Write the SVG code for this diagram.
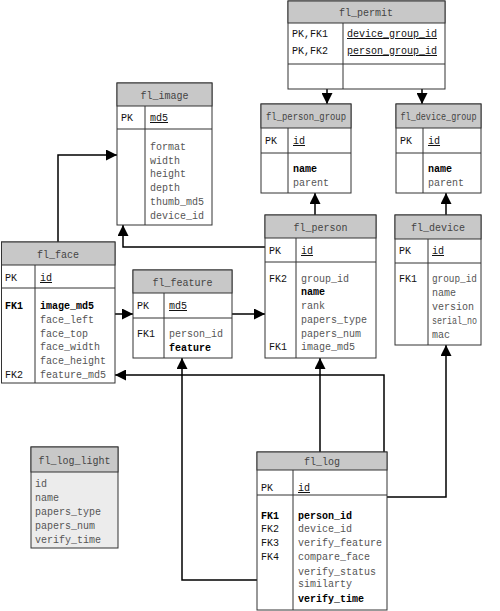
<svg xmlns="http://www.w3.org/2000/svg" width="500" height="611" viewBox="0 0 500 611">
<defs>
<marker id="ah" viewBox="0 0 10 10" refX="10" refY="5" markerWidth="11" markerHeight="11" markerUnits="userSpaceOnUse" orient="auto">
<path d="M0,0 L10,5 L0,10 z" fill="#000"/>
</marker>
<style>
.box{fill:#fff;stroke:#333;stroke-width:1}
.hd{fill:#c8c8c8;stroke:#333;stroke-width:1}
.lt{fill:#ececec;stroke:#333;stroke-width:1}
.ln{stroke:#333;stroke-width:1;fill:none}
text{font-family:"Liberation Mono","DejaVu Sans Mono",monospace;font-size:10px;fill:#555}
.t{text-anchor:middle;fill:#444}
.k{fill:#111}
.u{fill:#111;text-decoration:underline}
.b{fill:#000;font-weight:bold}
.c{stroke:#000;stroke-width:1.5;fill:none;marker-end:url(#ah)}
</style>
</defs>
<rect width="500" height="611" fill="#fff"/>

<g id="connectors">
<path class="c" d="M327,89 V104"/>
<path class="c" d="M422,89 V104"/>
<path class="c" d="M315,215 V193"/>
<path class="c" d="M446,215 V193"/>
<path class="c" d="M58,242 V155 H117"/>
<path class="c" d="M265,247 H123 V225"/>
<path class="c" d="M115,314 H133"/>
<path class="c" d="M232,314 H265"/>
<path class="c" d="M384,452 V375 H115"/>
<path class="c" d="M320,452 V358"/>
<path class="c" d="M257,580 H182 V358"/>
<path class="c" d="M387,497 H446 V345"/>
</g>

<g id="fl_permit">
<rect class="box" x="288" y="1" width="157" height="88"/>
<rect class="hd" x="288" y="1" width="157" height="22"/>
<line class="ln" x1="343" y1="23" x2="343" y2="89"/>
<line class="ln" x1="288" y1="64" x2="445" y2="64"/>
<text class="t" x="366" y="16">fl_permit</text>
<text class="k" x="292" y="37">PK,FK1</text>
<text class="k" x="292" y="54">PK,FK2</text>
<text class="u" x="347" y="37">device_group_id</text>
<text class="u" x="347" y="54">person_group_id</text>
</g>

<g id="fl_image">
<rect class="box" x="117" y="83" width="95" height="142"/>
<rect class="hd" x="117" y="83" width="95" height="23"/>
<line class="ln" x1="117" y1="129" x2="212" y2="129"/>
<line class="ln" x1="145" y1="106" x2="145" y2="225"/>
<text class="t" x="164.5" y="98.5">fl_image</text>
<text class="k" x="121" y="121">PK</text>
<text class="u" x="150" y="121">md5</text>
<text x="150" y="150">format</text>
<text x="150" y="163.7">width</text>
<text x="150" y="177.4">height</text>
<text x="150" y="191">depth</text>
<text x="150" y="204.8">thumb_md5</text>
<text x="150" y="218.5">device_id</text>
</g>

<g id="fl_person_group">
<rect class="box" x="261" y="104" width="90" height="89"/>
<rect class="hd" x="261" y="104" width="90" height="24"/>
<line class="ln" x1="261" y1="153" x2="351" y2="153"/>
<line class="ln" x1="288" y1="128" x2="288" y2="193"/>
<text class="t" x="306" y="120" textLength="80" lengthAdjust="spacingAndGlyphs">fl_person_group</text>
<text class="k" x="265" y="144">PK</text>
<text class="u" x="293" y="144">id</text>
<text class="b" x="293" y="172">name</text>
<text x="293" y="186">parent</text>
</g>

<g id="fl_device_group">
<rect class="box" x="396" y="104" width="85" height="89"/>
<rect class="hd" x="396" y="104" width="85" height="24"/>
<line class="ln" x1="396" y1="153" x2="481" y2="153"/>
<line class="ln" x1="423" y1="128" x2="423" y2="193"/>
<text class="t" x="438.5" y="120" textLength="76" lengthAdjust="spacingAndGlyphs">fl_device_group</text>
<text class="k" x="400" y="144">PK</text>
<text class="u" x="428" y="144">id</text>
<text class="b" x="428" y="172">name</text>
<text x="428" y="186">parent</text>
</g>

<g id="fl_face">
<rect class="box" x="1.5" y="242" width="113.5" height="141"/>
<rect class="hd" x="1.5" y="242" width="113.5" height="23"/>
<line class="ln" x1="1.5" y1="288" x2="115" y2="288"/>
<line class="ln" x1="35" y1="265" x2="35" y2="383"/>
<text class="t" x="58" y="257.5">fl_face</text>
<text class="k" x="5" y="281">PK</text>
<text class="u" x="40" y="281">id</text>
<text class="b" x="5" y="309">FK1</text>
<text class="b" x="40" y="309">image_md5</text>
<text x="40" y="323">face_left</text>
<text x="40" y="337">face_top</text>
<text x="40" y="350">face_width</text>
<text x="40" y="364">face_height</text>
<text class="k" x="5" y="378">FK2</text>
<text x="40" y="378">feature_md5</text>
</g>

<g id="fl_feature">
<rect class="box" x="133" y="270" width="99" height="88"/>
<rect class="hd" x="133" y="270" width="99" height="23"/>
<line class="ln" x1="133" y1="318" x2="232" y2="318"/>
<line class="ln" x1="164" y1="293" x2="164" y2="358"/>
<text class="t" x="182.5" y="285.5">fl_feature</text>
<text class="k" x="137" y="309">PK</text>
<text class="u" x="169" y="309">md5</text>
<text class="k" x="137" y="337">FK1</text>
<text x="169" y="337">person_id</text>
<text class="b" x="169" y="351">feature</text>
</g>

<g id="fl_person">
<rect class="box" x="265" y="215" width="111" height="143"/>
<rect class="hd" x="265" y="215" width="111" height="23"/>
<line class="ln" x1="265" y1="262" x2="376" y2="262"/>
<line class="ln" x1="296" y1="238" x2="296" y2="358"/>
<text class="t" x="320.5" y="230.5">fl_person</text>
<text class="k" x="269" y="254">PK</text>
<text class="u" x="301" y="254">id</text>
<text class="k" x="269" y="282">FK2</text>
<text x="301" y="282">group_id</text>
<text class="b" x="301" y="295">name</text>
<text x="301" y="309">rank</text>
<text x="301" y="323">papers_type</text>
<text x="301" y="337">papers_num</text>
<text class="k" x="269" y="350">FK1</text>
<text x="301" y="350">image_md5</text>
</g>

<g id="fl_device">
<rect class="box" x="395" y="215" width="86" height="130"/>
<rect class="hd" x="395" y="215" width="86" height="24"/>
<line class="ln" x1="395" y1="263" x2="481" y2="263"/>
<line class="ln" x1="428" y1="239" x2="428" y2="345"/>
<text class="t" x="438" y="231">fl_device</text>
<text class="k" x="399" y="254">PK</text>
<text class="u" x="432" y="254">id</text>
<text class="k" x="399" y="282">FK1</text>
<text x="432" y="282" textLength="45" lengthAdjust="spacingAndGlyphs">group_id</text>
<text x="432" y="296">name</text>
<text x="432" y="310">version</text>
<text x="432" y="324" textLength="45" lengthAdjust="spacingAndGlyphs">serial_no</text>
<text x="432" y="338">mac</text>
</g>

<g id="fl_log_light">
<rect class="lt" x="31" y="447" width="87" height="101"/>
<rect class="hd" x="31" y="447" width="87" height="25"/>
<text class="t" x="74.5" y="463.5">fl_log_light</text>
<text x="35" y="487">id</text>
<text x="35" y="501">name</text>
<text x="35" y="515">papers_type</text>
<text x="35" y="529">papers_num</text>
<text x="35" y="543">verify_time</text>
</g>

<g id="fl_log">
<rect class="box" x="257" y="452" width="130" height="158"/>
<rect class="hd" x="257" y="452" width="130" height="18"/>
<line class="ln" x1="257" y1="495" x2="387" y2="495"/>
<line class="ln" x1="293" y1="470" x2="293" y2="610"/>
<text class="t" x="322" y="464.5">fl_log</text>
<text class="k" x="261" y="491">PK</text>
<text class="u" x="298" y="491">id</text>
<text class="b" x="261" y="519">FK1</text>
<text class="b" x="298" y="519">person_id</text>
<text class="k" x="261" y="532">FK2</text>
<text x="298" y="532">device_id</text>
<text class="k" x="261" y="546">FK3</text>
<text x="298" y="546">verify_feature</text>
<text class="k" x="261" y="560">FK4</text>
<text x="298" y="560">compare_face</text>
<text x="298" y="575">verify_status</text>
<text x="298" y="587">similarty</text>
<text class="b" x="298" y="602">verify_time</text>
</g>
</svg>
